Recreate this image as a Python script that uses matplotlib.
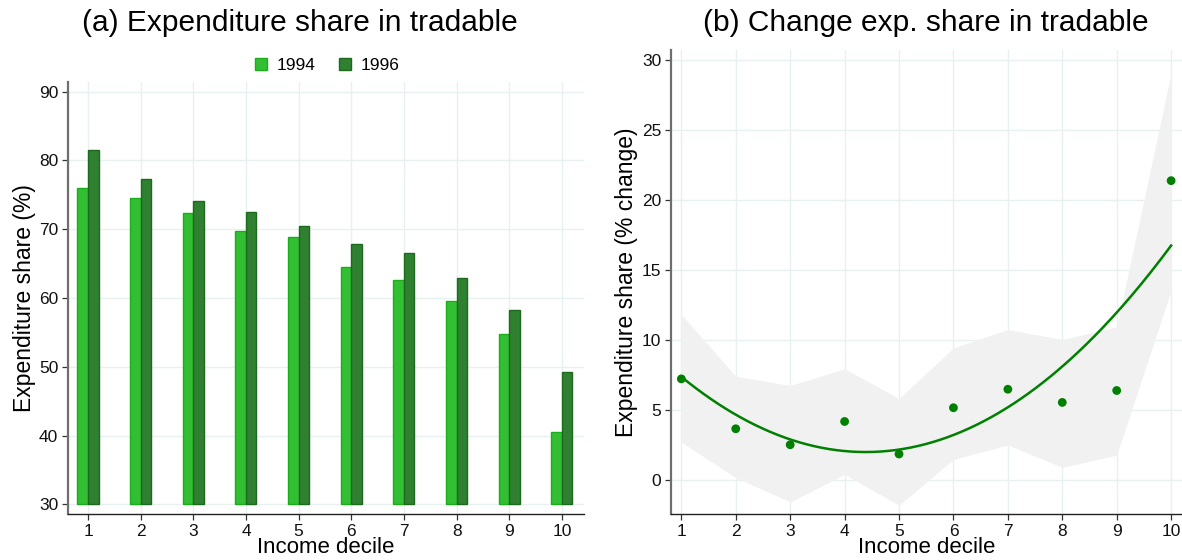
import numpy as np
import matplotlib
matplotlib.use("Agg")
import matplotlib.pyplot as plt
from matplotlib.lines import Line2D

plt.rcParams["font.family"] = ["Liberation Sans", "DejaVu Sans"]

# Panel (a): expenditure share in tradable goods by income decile
deciles = [1, 2, 3, 4, 5, 6, 7, 8, 9, 10]
share_1994 = [76.0, 74.6, 72.4, 69.7, 68.9, 64.5, 62.6, 59.5, 54.7, 40.5]
share_1996 = [81.5, 77.3, 74.1, 72.5, 70.4, 67.8, 66.5, 62.9, 58.2, 49.2]
year_labels = ["1994", "1996"]

# Panel (b): change in expenditure share with per-decile confidence band
change_pct = [7.24, 3.68, 2.54, 4.20, 1.88, 5.18, 6.50, 5.56, 6.41, 21.38]
band_upper = [11.83, 7.43, 6.77, 7.96, 5.84, 9.45, 10.76, 10.05, 10.95, 29.05]
band_lower = [2.73, 0.19, -1.54, 0.43, -1.78, 1.50, 2.52, 0.93, 1.80, 13.55]

left_ticks = [30, 40, 50, 60, 70, 80, 90]
right_ticks = [0, 5, 10, 15, 20, 25, 30]

c_light = "#33bf33"
c_light_edge = "#1aae1a"
c_dark = "#2f8030"
c_dark_edge = "#1d6a1d"
c_point = "#008000"
grid_c = "#e8f1f2"

fig = plt.figure(figsize=(11.82, 5.6), dpi=100)
W, H = 1182, 560


def px_axes(x0, y0, x1, y1):
    return fig.add_axes([x0 / W, 1 - y1 / H, (x1 - x0) / W, (y1 - y0) / H])


def style(ax):
    for s in ("top", "right"):
        ax.spines[s].set_visible(False)
    ax.spines["left"].set_color("#6e6e6e")
    ax.spines["left"].set_linewidth(1.6)
    ax.spines["bottom"].set_color("#222222")
    ax.spines["bottom"].set_linewidth(1.0)
    ax.grid(True, color=grid_c, linewidth=1.0)
    ax.set_axisbelow(True)
    ax.tick_params(axis="both", labelsize=12.5, length=4.5, width=0.9,
                   color="#333333", labelcolor="#111111", pad=2.5)


# ---- (a) bars ----
ax1 = px_axes(68, 82, 584, 514)
x = np.array(deciles, dtype=float)
w = 0.2
ax1.bar(x - w / 2, np.array(share_1994) - 30, w, bottom=30, color=c_light,
        edgecolor=c_light_edge, linewidth=1.0, zorder=2)
ax1.bar(x + w / 2, np.array(share_1996) - 30, w, bottom=30, color=c_dark,
        edgecolor=c_dark_edge, linewidth=1.0, zorder=2)
ax1.set_xlim(0.62, 10.42)
ax1.set_ylim(28.6, 91.4)
ax1.set_xticks(deciles)
ax1.set_yticks(left_ticks)
style(ax1)
ax1.set_xlabel("Income decile", fontsize=16, labelpad=-1)
ax1.set_ylabel("Expenditure share (%)", fontsize=16.5, labelpad=2)
handles = [
    Line2D([], [], marker="s", linestyle="none", markersize=8,
           markerfacecolor=c_light, markeredgecolor=c_light_edge),
    Line2D([], [], marker="s", linestyle="none", markersize=8,
           markerfacecolor=c_dark, markeredgecolor=c_dark_edge),
]
ax1.legend(handles, year_labels, ncol=2, frameon=False, fontsize=12.5,
           loc="lower center", bbox_to_anchor=(0.5, 1.0), handletextpad=0.4,
           columnspacing=1.2, borderaxespad=0.1, handlelength=1.0)
fig.text(300 / W, 1 - 23 / H, "(a) Expenditure share in tradable",
         ha="center", va="center", fontsize=21.5)

# ---- (b) scatter with quadratic fit ----
ax2 = px_axes(671, 50, 1182, 514)
ax2.fill_between(deciles, band_lower, band_upper, color="#f1f1f1",
                 linewidth=0, zorder=1)
coef = np.polyfit(deciles, change_pct, 2)
xs = np.linspace(1, 10, 200)
ax2.plot(xs, np.polyval(coef, xs), color=c_point, linewidth=1.8, zorder=3)
ax2.scatter(deciles, change_pct, s=40, color=c_point, zorder=4,
            edgecolors="none")
ax2.set_xlim(0.81, 10.2)
ax2.set_ylim(-2.4, 30.7)
ax2.set_xticks(deciles)
ax2.set_yticks(right_ticks)
style(ax2)
ax2.set_xlabel("Income decile", fontsize=16, labelpad=-1)
ax2.set_ylabel("Expenditure share (% change)", fontsize=16.5, labelpad=3)
fig.text(926 / W, 1 - 23 / H, "(b) Change exp. share in tradable",
         ha="center", va="center", fontsize=21.5)

fig.savefig("out.png", dpi=100)
